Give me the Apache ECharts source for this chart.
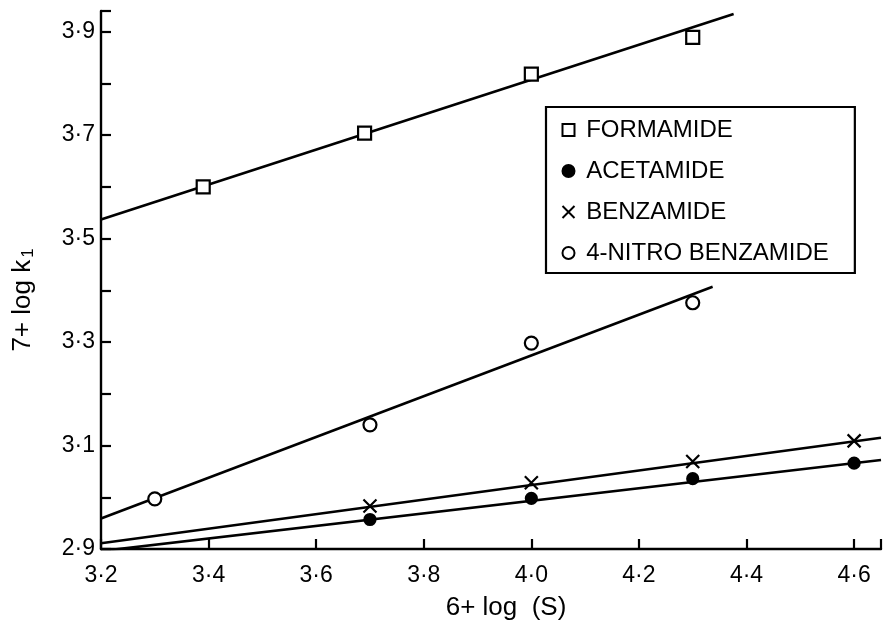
<!DOCTYPE html>
<html>
<head>
<meta charset="utf-8">
<script src="https://cdn.jsdelivr.net/npm/echarts@6/dist/echarts.min.js"></script>
<style>
html,body{margin:0;padding:0;background:#fff;}
#chart{width:884px;height:626px;}
</style>
</head>
<body>
<div id="chart"></div>
<script>
// ---- data ----
const seriesNames = ['FORMAMIDE', 'ACETAMIDE', 'BENZAMIDE', '4-NITRO BENZAMIDE'];

const formamideX = [3.39, 3.69, 4.0, 4.3];
const formamideY = [3.600, 3.704, 3.818, 3.889];

const acetamideX = [3.7, 4.0, 4.3, 4.6];
const acetamideY = [2.957, 2.998, 3.036, 3.066];

const benzamideX = [3.7, 4.0, 4.3, 4.6];
const benzamideY = [2.983, 3.028, 3.069, 3.109];

const nitroX = [3.3, 3.7, 4.0, 4.3];
const nitroY = [2.997, 3.140, 3.298, 3.376];

// fitted straight lines (end points)
const formamideFitX = [3.2, 4.376];
const formamideFitY = [3.537, 3.934];
const acetamideFitX = [3.2, 4.65];
const acetamideFitY = [2.896, 3.072];
const benzamideFitX = [3.2, 4.65];
const benzamideFitY = [2.911, 3.115];
const nitroFitX = [3.2, 4.337];
const nitroFitY = [2.959, 3.407];

const xTicks = [3.2, 3.4, 3.6, 3.8, 4.0, 4.2, 4.4, 4.6];
const yTickLabels = [2.9, 3.1, 3.3, 3.5, 3.7, 3.9];

// ---- helpers ----
const zip = (xs, ys) => xs.map((x, i) => [x, ys[i]]);
const FONT = 'Liberation Sans';
const fmt = v => v.toFixed(1).replace('.', '\u00b7');
const crossPath = 'path://M0,0L10,10M10,0L0,10';

const chart = echarts.init(document.getElementById('chart'), null, {renderer: 'canvas'});

const pointSeries = (name, xs, ys, symbol, size, fill) => ({
  name: name,
  type: 'scatter',
  data: zip(xs, ys),
  symbol: symbol,
  symbolSize: size,
  z: 5,
  itemStyle: {color: fill, borderColor: '#000', borderWidth: 2.2, opacity: 1}
});
const fitSeries = (name, xs, ys) => ({
  name: name,
  type: 'line',
  data: zip(xs, ys),
  symbol: 'none',
  clip: true,
  z: 3,
  lineStyle: {color: '#000', width: 2.6},
  silent: true
});

chart.setOption({
  animation: false,
  backgroundColor: '#fff',
  textStyle: {fontFamily: FONT, color: '#000'},
  grid: {left: 101, right: 0, top: 11, bottom: 71, containLabel: false},
  xAxis: {
    type: 'value',
    min: 3.2, max: 4.65, interval: 0.2,
    name: '6+ log  (S)',
    nameLocation: 'middle',
    nameGap: 46,
    nameTextStyle: {fontSize: 26, color: '#000', fontFamily: FONT, padding: [0, 0, 0, 30]},
    axisLine: {show: true, onZero: false, lineStyle: {color: '#000', width: 2.4}},
    axisTick: {show: true, inside: true, length: 10, lineStyle: {color: '#000', width: 2.2}},
    axisLabel: {
      fontSize: 23, color: '#000', fontFamily: FONT, margin: 15,
      formatter: v => xTicks.some(t => Math.abs(t - v) < 1e-6) ? fmt(v) : ''
    },
    splitLine: {show: false}
  },
  yAxis: {
    type: 'value',
    min: 2.9, max: 3.94, interval: 0.1,
    name: '7+ log k{sub|1}',
    nameLocation: 'middle',
    nameGap: 64,
    nameTextStyle: {
      fontSize: 26, color: '#000', fontFamily: FONT, padding: [0, 40, 0, 0],
      rich: {sub: {fontSize: 17, fontFamily: FONT, color: '#000', padding: [12, 0, 0, 2]}}
    },
    axisLine: {show: true, onZero: false, lineStyle: {color: '#000', width: 2.4}},
    axisTick: {show: true, inside: true, length: 10, lineStyle: {color: '#000', width: 2.2}},
    axisLabel: {
      fontSize: 23, color: '#000', fontFamily: FONT, margin: 6,
      formatter: v => yTickLabels.some(t => Math.abs(t - v) < 1e-6) ? fmt(v) : ''
    },
    splitLine: {show: false}
  },
  legend: {
    show: true,
    orient: 'vertical',
    left: 546, top: 107,
    padding: [11, 26, 8, 14],
    borderColor: '#000', borderWidth: 2.2,
    backgroundColor: '#fff',
    itemGap: 17,
    itemWidth: 12, itemHeight: 12,
    formatter: name => ' ' + name,
    textStyle: {fontSize: 24, color: '#000', fontFamily: FONT},
    data: seriesNames,
    selectedMode: false
  },
  series: [
    fitSeries('formamide fit', formamideFitX, formamideFitY),
    fitSeries('acetamide fit', acetamideFitX, acetamideFitY),
    fitSeries('benzamide fit', benzamideFitX, benzamideFitY),
    fitSeries('nitro fit', nitroFitX, nitroFitY),
    pointSeries(seriesNames[0], formamideX, formamideY, 'rect', 13, '#fff'),
    pointSeries(seriesNames[1], acetamideX, acetamideY, 'circle', 11, '#000'),
    pointSeries(seriesNames[2], benzamideX, benzamideY, crossPath, 13, 'none'),
    pointSeries(seriesNames[3], nitroX, nitroY, 'circle', 13, '#fff')
  ]
});
</script>
</body>
</html>
